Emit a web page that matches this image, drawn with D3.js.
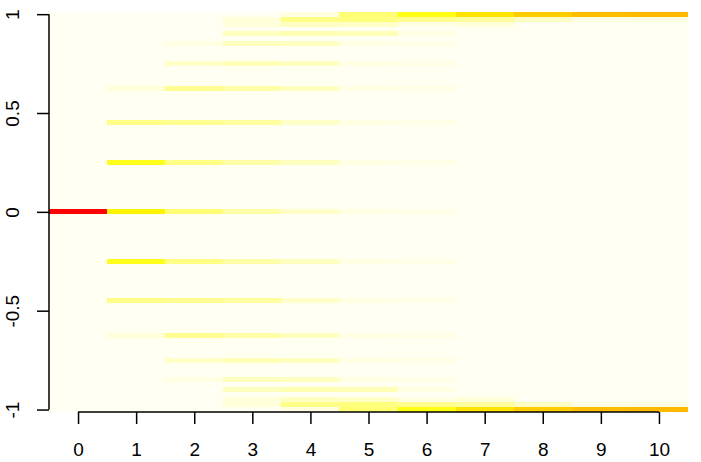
<!DOCTYPE html>
<html>
<head>
<meta charset="utf-8">
<script src="https://cdn.jsdelivr.net/npm/d3@7"></script>
<style>
  body { margin: 0; background: #fff; }
  svg { display: block; }
</style>
</head>
<body>
<script>
// step number on x, value on y, intensity per cell
var steps = [0, 1, 2, 3, 4, 5, 6, 7, 8, 9, 10];
var yRows = [-1, -0.975, -0.95, -0.9, -0.85, -0.75, -0.625, -0.45, -0.25, 0,
             0.25, 0.45, 0.625, 0.75, 0.85, 0.9, 0.95, 0.975, 1];
var yTicks = [-1, -0.5, 0, 0.5, 1];

var p0  = [0, 0, 0, 0, 0, 0, 0, 0, 0, 1, 0, 0, 0, 0, 0, 0, 0, 0, 0];
var p1  = [0, 0, 0, 0, 0, 0, 0.025, 0.11, 0.22, 0.28, 0.22, 0.11, 0.025, 0, 0, 0, 0, 0, 0];
var p2  = [0, 0, 0, 0, 0.015, 0.045, 0.1, 0.1, 0.115, 0.13, 0.115, 0.1, 0.1, 0.045, 0.015, 0, 0, 0, 0];
var p3  = [0, 0.025, 0.025, 0.055, 0.055, 0.06, 0.075, 0.085, 0.075, 0.075, 0.075, 0.085, 0.075, 0.06, 0.055, 0.055, 0.025, 0.025, 0];
var p4  = [0.02, 0.11, 0.05, 0.065, 0.05, 0.05, 0.05, 0.045, 0.05, 0.045, 0.05, 0.045, 0.05, 0.05, 0.05, 0.065, 0.05, 0.11, 0.02];
var p5  = [0.13, 0.12, 0.045, 0.06, 0.015, 0.015, 0.015, 0.015, 0.015, 0.015, 0.015, 0.015, 0.015, 0.015, 0.015, 0.06, 0.045, 0.12, 0.13];
var p6  = [0.23, 0.1, 0.015, 0.015, 0.012, 0.012, 0.012, 0.012, 0.012, 0.012, 0.012, 0.012, 0.012, 0.012, 0.012, 0.015, 0.015, 0.1, 0.23];
var p7  = [0.33, 0.085, 0.025, 0, 0, 0, 0, 0, 0, 0, 0, 0, 0, 0, 0, 0, 0.025, 0.085, 0.33];
var p8  = [0.4, 0.05, 0, 0, 0, 0, 0, 0, 0, 0, 0, 0, 0, 0, 0, 0, 0, 0.05, 0.4];
var p9  = [0.444, 0.015, 0, 0, 0, 0, 0, 0, 0, 0, 0, 0, 0, 0, 0, 0, 0, 0.015, 0.444];
var p10 = [0.453, 0.015, 0, 0, 0, 0, 0, 0, 0, 0, 0, 0, 0, 0, 0, 0, 0, 0.015, 0.453];
var probs = [p0, p1, p2, p3, p4, p5, p6, p7, p8, p9, p10];

var rowStep = 0.025;
var width = 701, height = 462;

// reversed heat colours: pale cream -> yellow -> red
function heat(t) {
    var h, s;
    if (t < 0.25) {
        h = 1 / 6;
        s = 0.05 + (1 - 0.05) * t / 0.25;
    } else {
        h = (1 / 6) * (1 - (t - 0.25) / 0.75);
        s = 1;
    }
    var g = 255 * (1 - s * (1 - h * 6));
    var b = 255 * (1 - s);
    return d3.rgb(255, g, b).formatHex();
}

var svg = d3.select('body')
            .append('svg')
            .attr('width', width)
            .attr('height', height);

var x = d3.scaleLinear().domain([-0.5, 10.5]).range([49, 688]);
var y = d3.scaleLinear().domain([-1 - rowStep / 2, 1 + rowStep / 2]).range([412, 11.7]);

// zero level everywhere
svg.append('rect')
   .attr('x', x(-0.5))
   .attr('y', y(1 + rowStep / 2))
   .attr('width', x(10.5) - x(-0.5))
   .attr('height', y(-1 - rowStep / 2) - y(1 + rowStep / 2))
   .attr('fill', heat(0))
   .attr('shape-rendering', 'crispEdges');

var cells = [];
steps.forEach(function (s, i) {
    yRows.forEach(function (v, j) {
        if (probs[i][j] > 0) cells.push({ step: s, value: v, p: probs[i][j] });
    });
});

svg.selectAll('rect.cell')
   .data(cells)
   .enter()
   .append('rect')
   .attr('class', 'cell')
   .attr('x', function (d) { return x(d.step - 0.5); })
   .attr('width', function (d) { return x(d.step + 0.5) - x(d.step - 0.5); })
   .attr('y', function (d) { return y(d.value + rowStep / 2); })
   .attr('height', function (d) { return y(d.value - rowStep / 2) - y(d.value + rowStep / 2); })
   .attr('fill', function (d) { return heat(d.p); })
   .attr('shape-rendering', 'crispEdges');

var font = '"Liberation Sans", Arial, sans-serif';

var xAxis = svg.append('g')
               .attr('transform', 'translate(0,412)')
               .call(d3.axisBottom(x).tickValues(steps).tickSize(12).tickSizeOuter(0).tickPadding(19)
                       .tickFormat(function (d) { return String(d); }));
xAxis.select('.domain').attr('d', 'M' + x(0) + ',0H' + x(10));

var yAxis = svg.append('g')
               .attr('transform', 'translate(49,0)')
               .call(d3.axisLeft(y).tickValues(yTicks).tickSize(12).tickSizeOuter(0)
                       .tickFormat(function (d) { return String(d); }));
yAxis.select('.domain').attr('d', 'M0,' + y(-1) + 'V' + y(1));
yAxis.selectAll('.tick text')
     .attr('text-anchor', 'middle')
     .attr('transform', 'rotate(-90)')
     .attr('x', 0)
     .attr('y', -30)
     .attr('dy', 0);

[xAxis, yAxis].forEach(function (a) {
    a.attr('font-family', font).attr('font-size', 19);
    a.selectAll('path, line').attr('stroke', '#000').attr('stroke-width', 1.5);
    a.selectAll('text').attr('fill', '#000');
});
</script>
</body>
</html>
